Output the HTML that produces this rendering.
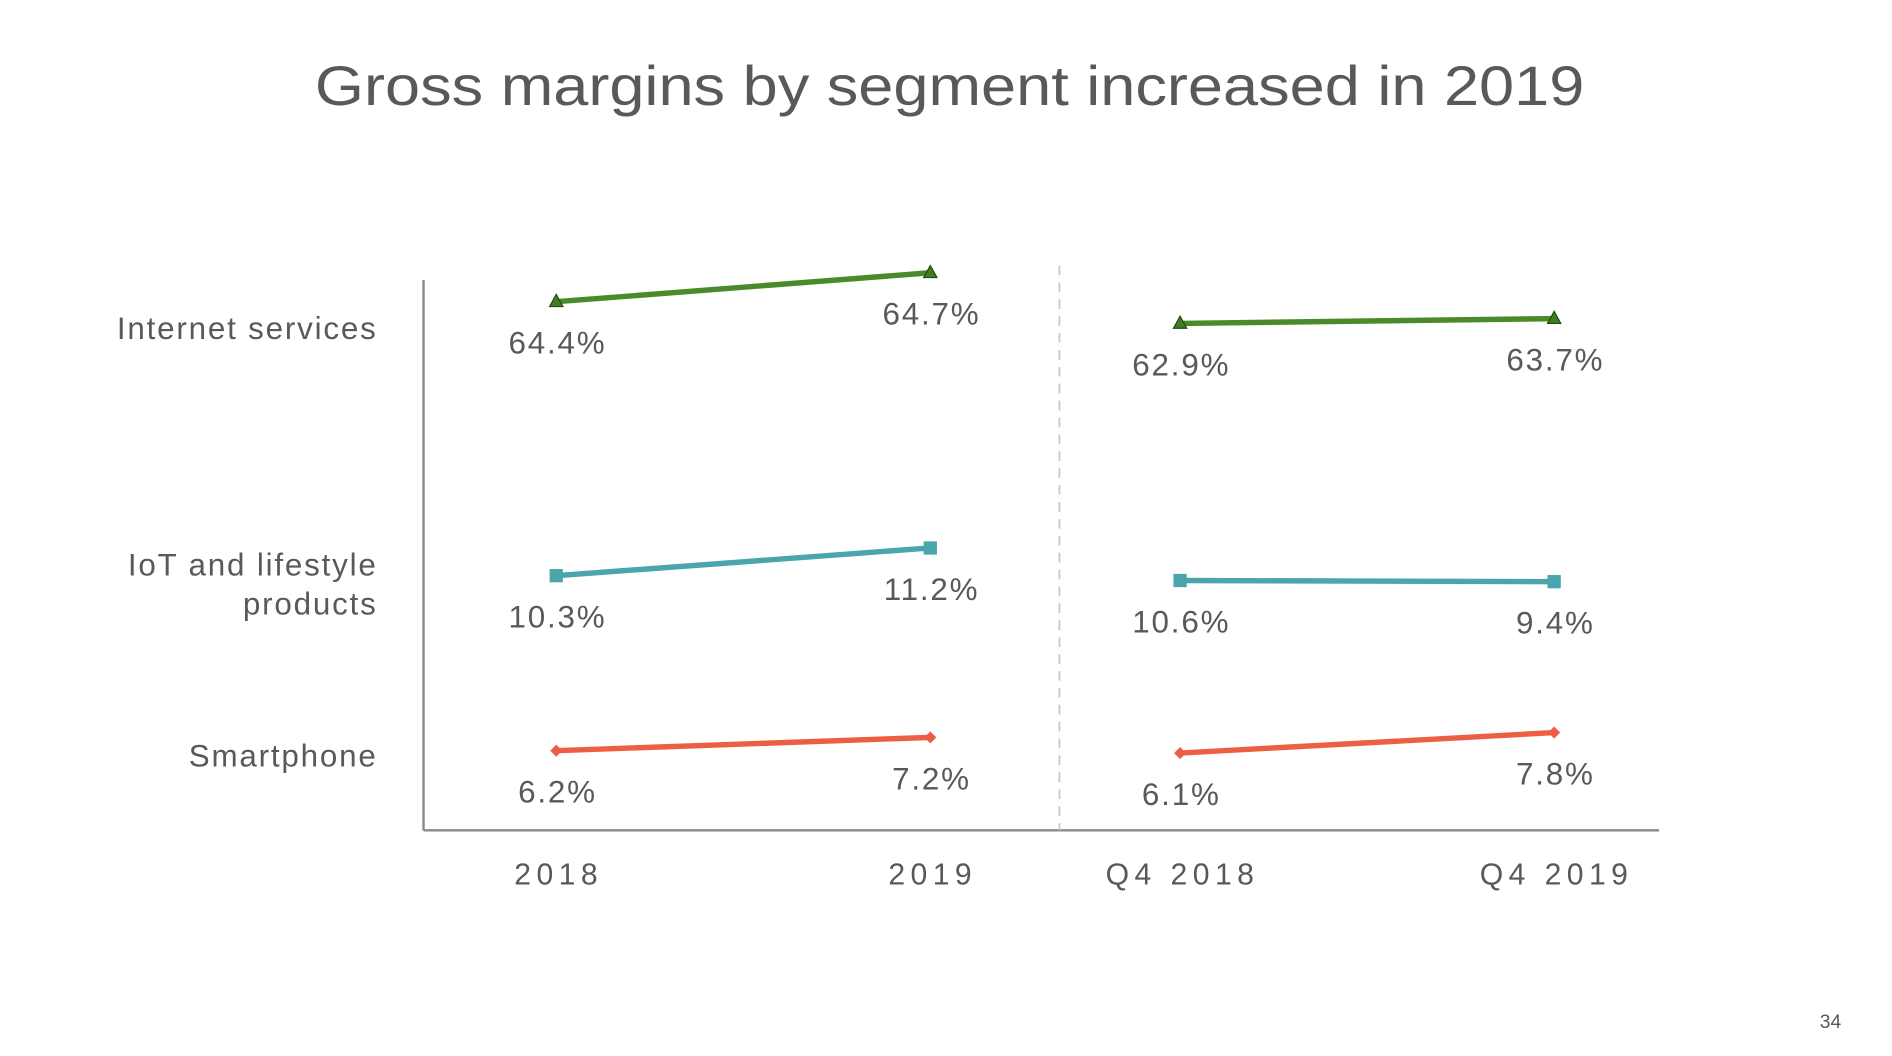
<!DOCTYPE html>
<html><head><meta charset="utf-8"><style>
html,body{margin:0;padding:0;background:#fff;}
svg{display:block;font-family:"Liberation Sans",sans-serif;}
</style></head><body>
<svg id="chart" width="1892" height="1056" viewBox="0 0 1568 875" preserveAspectRatio="none">
<text x="787" y="87" text-anchor="middle" font-size="46" fill="#595959" textLength="1052" lengthAdjust="spacingAndGlyphs">Gross margins by segment increased in 2019</text>
<line x1="351" y1="232" x2="351" y2="688" stroke="#8a8a8a" stroke-width="2"/>
<line x1="351" y1="688" x2="1375" y2="688" stroke="#8a8a8a" stroke-width="2"/>
<line x1="878" y1="220" x2="878" y2="688" stroke="#c8c8c8" stroke-width="1.5" stroke-dasharray="8,6"/>
<g id="cats"></g>
<g id="xlabels"></g>
<g id="marks"></g>
<text x="1517" y="852" text-anchor="middle" font-size="16" fill="#595959">34</text>
</svg>
<script>
const categories = ["2018", "2019", "Q4 2018", "Q4 2019"];
const segments = ["Internet services", "IoT and lifestyle products", "Smartphone"];
const internetValues = [64.4, 64.7, 62.9, 63.7];
const iotValues = [10.3, 11.2, 10.6, 9.4];
const smartphoneValues = [6.2, 7.2, 6.1, 7.8];
const valueLabels = [["64.4%","64.7%","62.9%","63.7%"],["10.3%","11.2%","10.6%","9.4%"],["6.2%","7.2%","6.1%","7.8%"]];

const NS = "http://www.w3.org/2000/svg";
function mk(tag, attrs, parent){const e=document.createElementNS(NS,tag);for(const k in attrs)e.setAttribute(k,attrs[k]);parent.appendChild(e);return e;}
const xPos = [461, 771, 978, 1288];
function xScale(i){return xPos[i];}
const rowCfg = [
  {panels:[{ref:64.4,y:250,k:80},{ref:62.9,y:268,k:5}]},
  {panels:[{ref:10.3,y:477,k:25.5},{ref:10.6,y:481,k:0.8}]},
  {panels:[{ref:6.2,y:622,k:11},{ref:6.1,y:624,k:10}]}
];
function yScale(row,i,v){const p=rowCfg[row].panels[i<2?0:1];return p.y-(v-p.ref)*p.k;}
const colors=["#4b8a2b","#4aa5ad","#ec5f45"];
const series=[internetValues, iotValues, smartphoneValues];

const cats=document.getElementById('cats');
const catY=[[272],[468,500],[626]];
[["Internet services"],["IoT and lifestyle","products"],["Smartphone"]].forEach((lines,r)=>{
  lines.forEach((t,j)=>{
    const e=mk('text',{x:313,y:catY[r][j]+9,'text-anchor':'end','font-size':26,fill:'#595959','letter-spacing':'1.5'},cats);
    
    
    e.textContent=t;
  });
});
const xl=document.getElementById('xlabels');
categories.forEach((c,i)=>{
  const e=mk('text',{x:xScale(i)+2,y:733,'text-anchor':'middle','font-size':25,fill:'#595959','letter-spacing':'4.5'},xl);
  
  
  e.textContent=c;
});
const marks=document.getElementById('marks');
series.forEach((vals,r)=>{
  for(let p=0;p<2;p++){
    const a=p*2,b=p*2+1;
    const ln=mk('line',{x1:xScale(a),y1:yScale(r,a,vals[a]),x2:xScale(b),y2:yScale(r,b,vals[b]),stroke:colors[r],'stroke-width':4.5},marks);
    
    
  }
  vals.forEach((v,i)=>{
    const x=xScale(i),y=yScale(r,i,v);
    let m;
    if(r===0) m=mk('polygon',{points:`${x},${y-6} ${x-5.5},${y+4} ${x+5.5},${y+4}`,fill:'#3f7f22',stroke:'#1f4a10','stroke-width':1},marks);
    else if(r===1) m=mk('rect',{x:x-5.5,y:y-5.5,width:11,height:11,fill:colors[1]},marks);
    else m=mk('polygon',{points:`${x},${y-5} ${x+5},${y} ${x},${y+5} ${x-5},${y}`,fill:colors[2]},marks);
    
    
    const t=mk('text',{x:x+1,y:y+43,'text-anchor':'middle','font-size':26,fill:'#595959','letter-spacing':'1.5'},marks);
    
    
    t.textContent=valueLabels[r][i];
  });
});
</script>
</body></html>
